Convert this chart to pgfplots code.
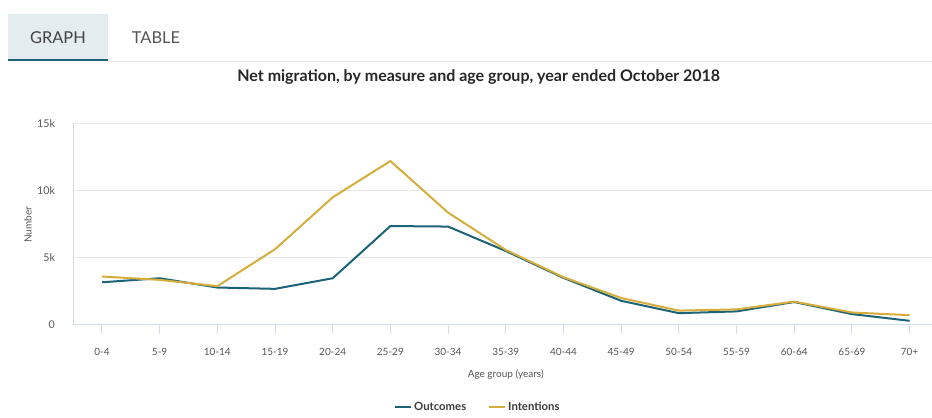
\documentclass[border=0pt]{standalone}
\usepackage{pgfplots}
\pgfplotsset{compat=1.18}
\usepackage{fontspec}
\setmainfont{Lato}
\definecolor{outc}{HTML}{1D6378}
\definecolor{intc}{HTML}{D4AD3A}
\definecolor{tabbg}{HTML}{E4ECF0}
\definecolor{axc}{HTML}{D3DCEA}
\definecolor{gridc}{HTML}{E8E8E8}
\definecolor{txt}{HTML}{555555}
\begin{document}
\begin{tikzpicture}
\begin{scope}[x=0.75pt,y=-0.75pt]
\path[use as bounding box] (0,0) rectangle (932,411);
\fill[tabbg] (8,14) rectangle (108,60);
\fill[outc] (8,59) rectangle (108,61.5);
\draw[gridc,line width=0.75pt] (108,61.5) -- (932,61.5);
\node[font=\fontsize{12.3}{14}\selectfont,text=txt!80!black] at (58,38) {GRAPH};
\node[font=\fontsize{12.3}{14}\selectfont,text=txt] at (156,38) {TABLE};
\node[font=\bfseries\fontsize{12}{14}\selectfont,text=black!85] at (479,77) {Net migration, by measure and age group, year ended October 2018};
\node[font=\fontsize{7.5}{9}\selectfont,text=txt,rotate=90] at (28,225) {Number};
\node[font=\fontsize{7.5}{9}\selectfont,text=txt] at (506,375) {Age group (years)};
\end{scope}
\begin{axis}[
  at={(55.5pt,-243.75pt)}, anchor=south west,
  scale only axis, width=643.5pt, height=151.1pt,
  xmin=-0.485, xmax=14.38, ymin=0, ymax=15000,
  axis lines=left, axis line style={axc, line width=0.75pt, -},
  xtick={0,...,14},
  xticklabels={0-4,5-9,10-14,15-19,20-24,25-29,30-34,35-39,40-44,45-49,50-54,55-59,60-64,65-69,70+},
  ytick={0,5000,10000,15000}, yticklabels={0,5k,10k,15k},
  scaled y ticks=false,
  tick align=outside, major tick length=6.75pt,
  xtick style={axc, line width=0.75pt},
  ytick style={draw=none},
  ymajorgrids, grid style={gridc, line width=0.75pt},
  xticklabel style={font=\fontsize{7.5}{9}\selectfont, text=txt, yshift=-7pt},
  yticklabel style={font=\fontsize{8}{9}\selectfont, text=txt, xshift=-4pt},
  legend style={at={(0.471,-0.41)}, anchor=center, draw=none, legend columns=2,
    font=\bfseries\fontsize{8.5}{10}\selectfont, text=txt!70!black,
    /tikz/every even column/.append style={column sep=14pt}},
  legend image code/.code={\draw[#1, line width=1.5pt] (0pt,0pt) -- (12pt,0pt);},
]
\addplot[outc, line width=1.5pt] coordinates {
(0,3170) (1,3470) (2,2780) (3,2680) (4,3470) (5,7360) (6,7320) (7,5500) (8,3500)
(9,1790) (10,870) (11,1000) (12,1700) (13,800) (14,300)};
\addlegendentry{Outcomes}
\addplot[intc, line width=1.5pt] coordinates {
(0,3600) (1,3350) (2,2880) (3,5630) (4,9500) (5,12200) (6,8360) (7,5580) (8,3550)
(9,2000) (10,1060) (11,1150) (12,1730) (13,920) (14,720)};
\addlegendentry{Intentions}
\end{axis}
\end{tikzpicture}
\end{document}
